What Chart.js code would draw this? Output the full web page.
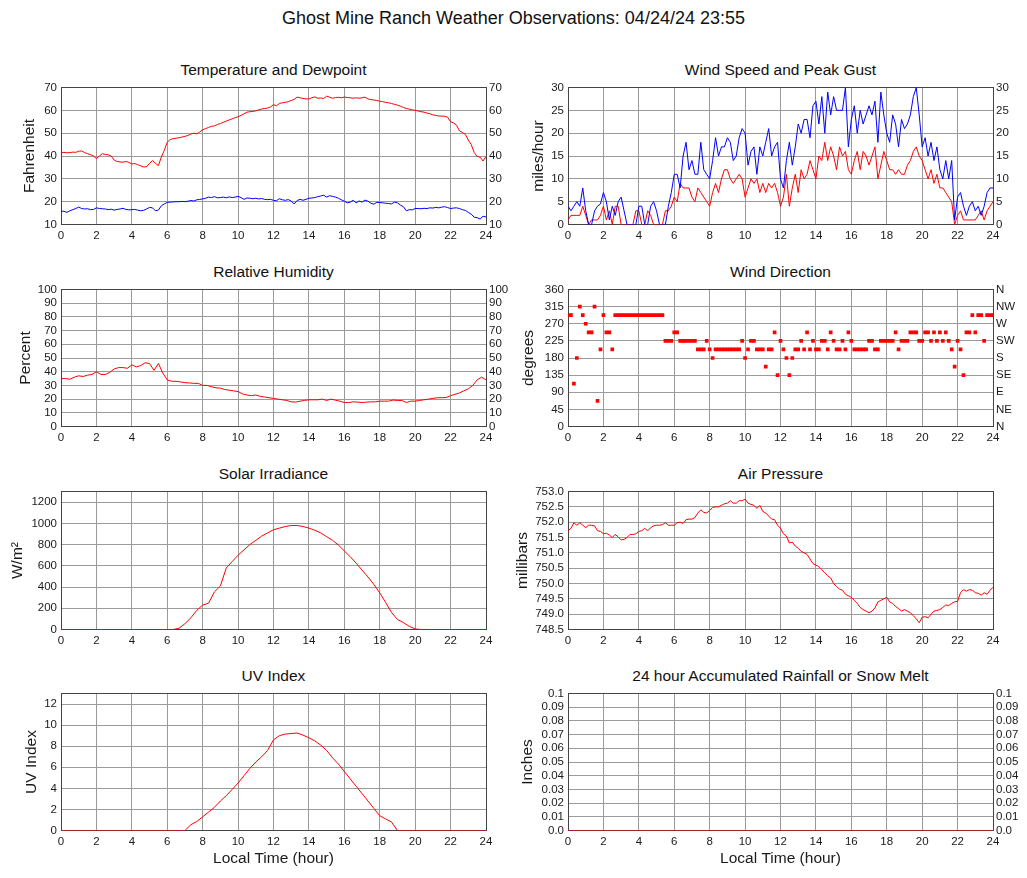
<!DOCTYPE html>
<html>
<head>
<meta charset="utf-8">
<title>Ghost Mine Ranch Weather Observations</title>
<script src="https://cdn.jsdelivr.net/npm/chart.js@4.4.1/dist/chart.umd.min.js"></script>
<style>
  body { margin: 0; background: #fff; font-family: "Liberation Sans", Arial, sans-serif; }
  #page { position: relative; width: 1027px; height: 878px; overflow: hidden; }
  .title { position: absolute; text-align: center; color: #111; white-space: nowrap; }
  .sub { font-size: 15.5px; line-height: 20px; width: 425px; }
  canvas { position: absolute; }
</style>
</head>
<body>
<div id="page">
  <div class="title" style="left:0;top:7px;width:1027px;font-size:18px;line-height:22px">Ghost Mine Ranch Weather Observations: 04/24/24 23:55</div>

  <div class="title sub" style="left:61px;top:60px">Temperature and Dewpoint</div>
  <div class="title sub" style="left:568px;top:60px">Wind Speed and Peak Gust</div>
  <div class="title sub" style="left:61px;top:262px">Relative Humidity</div>
  <div class="title sub" style="left:568px;top:262px">Wind Direction</div>
  <div class="title sub" style="left:61px;top:464px">Solar Irradiance</div>
  <div class="title sub" style="left:568px;top:464px">Air Pressure</div>
  <div class="title sub" style="left:61px;top:666px">UV Index</div>
  <div class="title sub" style="left:568px;top:666px">24 hour Accumulated Rainfall or Snow Melt</div>

  <canvas id="temp"  width="513" height="171" style="left:0;top:75px"></canvas>
  <canvas id="wind"  width="514" height="171" style="left:513px;top:75px"></canvas>
  <canvas id="rh"    width="513" height="171" style="left:0;top:277px"></canvas>
  <canvas id="dir"   width="514" height="171" style="left:513px;top:277px"></canvas>
  <canvas id="solar" width="513" height="172" style="left:0;top:479px"></canvas>
  <canvas id="press" width="514" height="172" style="left:513px;top:479px"></canvas>
  <canvas id="uv"    width="513" height="197" style="left:0;top:681px"></canvas>
  <canvas id="rain"  width="514" height="197" style="left:513px;top:681px"></canvas>
</div>

<script>
// sample spacing, in hours
const STEP_10MIN = 1 / 6;
const STEP_15MIN = 1 / 4;
const STEP_20MIN = 1 / 3;
const STEP_1H = 1;

// one row = one hour (10 minute samples), last value = 24:00
const temperature = [
  41.5, 41.6, 41.4, 41.5, 41.7, 41.6,
  42.1, 42.2, 41.5, 41.0, 40.6, 40.0,
  38.9, 40.0, 41.0, 40.7, 40.5, 40.0,
  38.2, 37.6, 37.4, 37.3, 37.6, 37.2,
  36.5, 36.7, 36.2, 35.7, 35.2, 35.3,
  36.8, 38.0, 36.8, 35.8, 39.5, 42.5,
  46.0, 47.2, 47.6, 47.8, 48.0, 48.3,
  48.6, 49.0, 49.6, 50.0, 49.7, 50.5,
  51.5, 52.0, 52.5, 53.0, 53.2, 53.8,
  54.2, 54.8, 55.3, 55.8, 56.3, 56.8,
  57.2, 57.8, 58.5, 59.2, 59.4, 59.5,
  59.8, 60.2, 60.6, 60.8, 61.0, 61.5,
  62.5, 62.0, 63.0, 63.3, 63.5, 63.8,
  64.3, 64.8, 65.8, 65.5, 65.2, 65.0,
  65.0, 65.5, 65.9, 65.3, 65.4, 65.2,
  66.2, 65.8, 65.3, 65.6, 65.7, 65.5,
  65.8, 65.6, 65.5, 65.3, 65.5, 65.3,
  65.5, 65.8, 65.0, 64.7, 64.5, 64.3,
  64.0, 63.8, 63.5, 63.3, 63.0, 62.6,
  62.3, 61.8, 61.3, 60.8, 60.5, 60.2,
  60.0, 59.7, 59.4, 59.2, 58.8, 58.5,
  58.0, 57.8, 57.5, 57.5, 57.4, 57.0,
  55.0, 54.5, 53.5, 51.0, 50.3, 49.5,
  47.0, 45.0, 41.5, 39.8, 39.5, 37.8,
  39.8
];

const dewpoint = [
  15.8, 15.8, 15.3, 16.0, 16.5, 17.0,
  17.6, 17.0, 16.8, 16.9, 16.5, 16.6,
  17.3, 17.0, 16.9, 16.8, 16.5, 16.7,
  16.3, 16.6, 16.8, 17.1, 16.6, 16.4,
  16.5, 16.6, 16.3, 16.0, 16.2, 16.8,
  17.5, 17.3, 16.0, 16.3, 18.2, 19.0,
  19.7, 19.8, 19.9, 20.0, 20.0, 20.1,
  20.0, 20.2, 20.5, 20.3, 20.8, 21.0,
  21.2, 21.5, 22.0, 21.8, 22.2, 21.7,
  21.8, 22.0, 21.7, 22.1, 21.8, 22.0,
  22.3, 21.8, 21.0, 21.6, 21.5, 21.3,
  21.5, 21.2, 21.4, 21.0, 20.9, 21.0,
  20.6, 20.4, 21.3, 20.8, 20.6, 20.9,
  20.3, 19.0, 20.5, 21.0, 20.6, 21.0,
  21.5, 21.6, 21.8, 22.2, 22.5, 22.8,
  22.0, 22.6, 22.3, 22.0, 21.5, 20.8,
  20.2, 19.5, 19.8, 20.6, 19.5, 20.3,
  19.8, 20.7, 20.2, 19.3, 18.9, 19.7,
  19.6, 19.5, 19.3, 19.2, 19.0, 19.8,
  19.5, 18.5, 17.8, 16.0, 16.5, 16.4,
  17.0, 17.0, 16.9, 17.1, 17.0, 17.3,
  17.2, 17.5, 17.3, 17.6, 17.8, 17.4,
  17.0, 17.2, 17.3, 17.0, 16.5, 16.2,
  15.3, 14.5, 13.2, 13.0, 12.4, 13.6,
  13.3
];

const windSpeed = [
  1, 2, 2, 2, 2, 4,
  2, 0, 1, 1, 1, 2,
  4, 1, 3, 0, 4, 4,
  0, 0, 0, 0, 0, 3,
  3, 0, 0, 3, 2, 0,
  0, 0, 0, 3, 3, 4,
  6, 5, 9, 8, 8, 8,
  6, 5, 8, 7, 6, 5,
  4, 7, 9, 7, 10, 12,
  12, 10, 9, 10, 11, 10,
  6, 8, 10, 9, 10, 7,
  9, 7, 9, 8, 9, 7,
  4, 6, 11, 4, 8, 11,
  7, 12, 10, 11, 14, 12,
  10, 15, 14, 18, 14, 17,
  15, 12, 17, 15, 16, 12,
  11, 14, 16, 12, 16, 15,
  13, 15, 17, 10, 13, 16,
  14, 12, 12, 11, 12, 11,
  11, 13, 14, 16, 17, 15,
  14, 12, 10, 12, 9, 11,
  8, 8, 7, 6, 5, 0,
  2, 3, 1, 1, 1, 1,
  1, 2, 3, 1, 3, 4,
  5
];

const peakGust = [
  4, 3, 4, 5, 4, 8,
  3, 0, 0, 3, 4, 4.5,
  7, 5, 1, 4, 2, 5,
  6, 3, 0, 0, 0, 0,
  4, 4, 0, 0, 4, 5,
  3, 0, 0, 0, 4, 7,
  11, 11, 8, 15, 18, 12,
  14, 11, 11, 18, 12, 11,
  10, 14, 19, 15, 17, 17,
  19, 18, 14, 15, 19, 21,
  20, 13, 16, 17, 11, 17,
  15, 18, 21, 15, 17, 18,
  10, 8, 14, 18, 13, 17,
  22, 20, 23, 23, 19, 26,
  27, 22, 28, 20, 29, 24,
  28, 25, 25, 25, 30, 17,
  23, 26, 20, 25, 22, 24,
  26, 24, 27, 18, 29, 24,
  20, 18, 24, 22, 17, 23,
  21, 22, 24, 28, 30, 24,
  17, 19, 15, 18, 14, 17,
  12, 10, 14, 10, 14, 1,
  6, 7, 4, 2, 4, 5,
  3, 4, 2, 4, 7, 8,
  8
];

const windDirection = [
  292.5, 292.5, 112.5, 180, 315, 292.5,
  270, 247.5, 247.5, 315, 67.5, 202.5,
  292.5, 247.5, 247.5, 202.5, 292.5, 292.5,
  292.5, 292.5, 292.5, 292.5, 292.5, 292.5,
  292.5, 292.5, 292.5, 292.5, 292.5, 292.5,
  292.5, 292.5, 292.5, 225, 225, 225,
  247.5, 247.5, 225, 225, 225, 225,
  225, 225, 202.5, 202.5, 202.5, 225,
  202.5, 180, 202.5, 202.5, 202.5, 202.5,
  202.5, 202.5, 202.5, 202.5, 202.5, 225,
  180, 202.5, 225, 225, 202.5, 202.5,
  202.5, 157.5, 202.5, 202.5, 247.5, 135,
  225, 202.5, 180, 135, 180, 202.5,
  202.5, 225, 202.5, 247.5, 202.5, 225,
  202.5, 202.5, 225, 225, 202.5, 247.5,
  225, 202.5, 202.5, 225, 202.5, 247.5,
  225, 202.5, 202.5, 202.5, 202.5, 202.5,
  225, 225, 202.5, 202.5, 225, 225,
  225, 225, 225, 247.5, 202.5, 225,
  225, 225, 247.5, 247.5, 247.5, 225,
  225, 247.5, 247.5, 225, 247.5, 225,
  247.5, 225, 247.5, 225, 202.5, 157.5,
  225, 202.5, 135, 247.5, 247.5, 292.5,
  247.5, 292.5, 292.5, 225, 292.5, 292.5,
  292.5
];

// 15 minute samples
const humidity = [
  35.0, 35.0, 34.5, 36.0,
  37.0, 36.5, 37.5, 38.0,
  40.0, 38.0, 38.0, 39.5,
  42.0, 43.0, 43.0, 42.5,
  45.0, 43.5, 44.5, 46.5,
  46.0, 41.0, 46.0, 39.0,
  34.0, 33.0, 33.0, 32.5,
  32.0, 31.8, 31.5, 31.5,
  30.0, 30.0, 29.0, 28.2,
  28.0, 27.0, 26.5, 26.0,
  25.5, 23.8, 23.0, 22.5,
  23.0, 22.0, 21.5, 21.0,
  20.5, 20.0, 19.5, 19.0,
  18.0, 17.8, 18.5, 19.0,
  19.5, 19.5, 19.5, 20.0,
  19.0, 20.0, 19.2, 18.5,
  17.5, 17.5, 18.0, 17.8,
  17.5, 17.8, 18.0, 18.0,
  18.5, 18.5, 18.5, 19.3,
  19.0, 19.0, 17.5, 18.5,
  18.5, 19.0, 19.5, 20.0,
  20.5, 21.0, 21.0, 21.2,
  22.5, 23.5, 24.5, 26.0,
  27.5, 30.0, 34.0, 36.0,
  34.0
];

// 20 minute samples
const solar = [
  0, 0, 0,  0, 0, 0,  0, 0, 0,  0, 0, 0,  0, 0, 0,  0, 0, 0,
  0, 0, 12,
  55, 110, 180,
  230, 248, 355,
  410, 580, 640,
  700, 750, 800,
  840, 880, 910,
  940, 955, 970,
  980, 980, 970,
  955, 935, 910,
  875, 840, 795,
  740, 685, 625,
  560, 495, 425,
  345, 255, 160,
  95, 65, 30,
  5, 0, 0,
  0, 0, 0,  0, 0, 0,  0, 0, 0,
  0
];

const uvIndex = [
  0, 0, 0,  0, 0, 0,  0, 0, 0,  0, 0, 0,  0, 0, 0,  0, 0, 0,  0, 0, 0,
  0, 0.55, 0.85,
  1.3, 1.75, 2.2,
  2.8, 3.3, 3.9,
  4.5, 5.2, 5.9,
  6.5, 7.0, 7.6,
  8.6, 9.0, 9.15,
  9.2, 9.25, 9.05,
  8.8, 8.5, 8.1,
  7.6, 6.9, 6.3,
  5.6, 4.9, 4.2,
  3.5, 2.8, 2.1,
  1.4, 1.1, 0.8,
  0, 0, 0,
  0, 0, 0,  0, 0, 0,  0, 0, 0,  0, 0, 0,
  0
];

// 10 minute samples
const pressure = [
  751.72, 751.80, 751.98, 751.90, 751.98, 751.90,
  751.82, 751.90, 751.90, 751.88, 751.72, 751.70,
  751.62, 751.64, 751.58, 751.50, 751.60, 751.52,
  751.42, 751.44, 751.50, 751.60, 751.60, 751.62,
  751.70, 751.72, 751.80, 751.72, 751.82, 751.88,
  751.90, 751.90, 751.92, 751.98, 751.90, 751.90,
  751.90, 751.98, 752.00, 751.96, 752.08, 752.10,
  752.10, 752.15, 752.30, 752.40, 752.32, 752.30,
  752.38, 752.48, 752.50, 752.50, 752.55, 752.60,
  752.62, 752.70, 752.62, 752.62, 752.70, 752.70,
  752.75, 752.62, 752.58, 752.55, 752.45, 752.55,
  752.35, 752.30, 752.20, 752.10, 752.08, 751.90,
  751.80, 751.62, 751.55, 751.32, 751.35, 751.22,
  751.15, 751.05, 751.00, 750.95, 750.80, 750.65,
  750.60, 750.55, 750.45, 750.35, 750.25, 750.18,
  750.00, 749.90, 749.82, 749.78, 749.65, 749.60,
  749.55, 749.45, 749.35, 749.22, 749.15, 749.10,
  749.05, 749.10, 749.20, 749.40, 749.45, 749.50,
  749.55, 749.40, 749.35, 749.25, 749.18, 749.10,
  749.15, 749.10, 749.05, 748.95, 748.85, 748.72,
  748.90, 748.92, 748.88, 749.00, 749.10, 749.12,
  749.15, 749.22, 749.30, 749.28, 749.35, 749.40,
  749.42, 749.70, 749.80, 749.75, 749.80, 749.78,
  749.70, 749.68, 749.62, 749.70, 749.65, 749.78,
  749.88
];

// hourly
const rainfall = [0, 0, 0, 0, 0, 0, 0, 0, 0, 0, 0, 0, 0, 0, 0, 0, 0, 0, 0, 0, 0, 0, 0, 0, 0];

const compassLabels = { 0: 'N', 45: 'NE', 90: 'E', 135: 'SE', 180: 'S', 225: 'SW', 270: 'W', 315: 'NW', 360: 'N' };

const RED = '#ff0000';
const BLUE = '#0000ff';
const GRID = '#9a9a9a';
const FRAME = '#444444';
const NONE = 'rgba(0,0,0,0)';
const TICK_FONT = { size: 11.5 };
const AXIS_FONT = { size: 15.5 };

Chart.defaults.font.family = '"Liberation Sans", Arial, Helvetica, sans-serif';
Chart.defaults.color = '#1a1a1a';

function toPoints(values, step) {
  return values.map((v, i) => ({ x: i * step, y: v }));
}

function line(values, step, color) {
  return {
    data: toPoints(values, step),
    borderColor: color,
    borderWidth: 1,
    pointRadius: 0,
    tension: 0
  };
}

// dark box around the plot area (the plot area sits on half pixels, so this is crisp)
const frame = {
  id: 'frame',
  beforeDatasetsDraw(chart) {
    const { ctx, chartArea: a } = chart;
    ctx.save();
    ctx.strokeStyle = FRAME;
    ctx.lineWidth = 1;
    ctx.strokeRect(a.left + 0.5, a.top, a.right - a.left, a.bottom - a.top);
    ctx.restore();
  }
};

// hide the grid lines that fall on the frame
function gridColor(lo, hi) {
  return c => (c.tick && (c.tick.value === lo || c.tick.value === hi) ? NONE : GRID);
}

function panel(id, datasets, p) {
  const yTicks = {
    stepSize: p.step,
    autoSkip: false,
    includeBounds: p.includeBounds !== false,
    font: TICK_FONT,
    callback: p.fmt || (v => v)
  };
  const scales = {
    x: {
      type: 'linear', min: 0, max: 24,
      ticks: { stepSize: 2, autoSkip: false, maxRotation: 0, padding: 4.5, font: TICK_FONT },
      grid: { color: gridColor(0, 24), drawTicks: false },
      border: { display: false },
      title: {
        display: !!p.bottomRow, text: 'Local Time (hour)', font: AXIS_FONT,
        padding: { top: 0, bottom: 10 }
      },
      afterFit: s => { s.height = p.bottomRow ? 47.5 : 21.5; }
    },
    y: {
      position: 'left', min: p.min, max: p.max,
      ticks: Object.assign({ padding: 4 }, yTicks),
      grid: { color: gridColor(p.min, p.max), drawTicks: false },
      border: { display: false },
      title: { display: true, text: p.yTitle, font: AXIS_FONT, padding: { top: p.yTitlePad, bottom: 0 } },
      afterFit: s => { s.width = p.leftW; }
    }
  };
  if (p.right) {
    scales.y2 = {
      position: 'right', min: p.min, max: p.max,
      ticks: Object.assign({ padding: 3 }, yTicks, p.rightFmt ? { callback: p.rightFmt } : {}),
      grid: { display: false, drawTicks: false },
      border: { display: false },
      afterFit: s => { s.width = p.rightW; }
    };
  }
  new Chart(document.getElementById(id), {
    type: 'line',
    data: { datasets },
    options: {
      responsive: false,
      animation: false,
      events: [],
      layout: { padding: { top: 12.5, left: 0, bottom: 0, right: p.right ? 0 : p.rightW } },
      plugins: { legend: { display: false }, tooltip: { enabled: false } },
      scales
    },
    plugins: [frame]
  });
}

const LEFT = { leftW: 61, rightW: 27 };
const RIGHT = { leftW: 55, rightW: 34 };

panel('temp', [line(temperature, STEP_10MIN, RED), line(dewpoint, STEP_10MIN, BLUE)],
  Object.assign({ min: 10, max: 70, step: 10, yTitle: 'Fahrenheit', yTitlePad: 20.7, right: true }, LEFT));

panel('wind', [line(peakGust, STEP_10MIN, BLUE), line(windSpeed, STEP_10MIN, RED)],
  Object.assign({ min: 0, max: 30, step: 5, yTitle: 'miles/hour', yTitlePad: 16.4, right: true }, RIGHT));

panel('rh', [line(humidity, STEP_15MIN, RED)],
  Object.assign({ min: 0, max: 100, step: 10, yTitle: 'Percent', yTitlePad: 16.2, right: true }, LEFT));

panel('dir', [{
    data: toPoints(windDirection, STEP_10MIN),
    showLine: false,
    pointStyle: 'rect',
    pointRadius: 2.6,
    pointBorderWidth: 0,
    pointBackgroundColor: RED
  }],
  Object.assign({ min: 0, max: 360, step: 45, yTitle: 'degrees', yTitlePad: 6.7, right: true,
    rightFmt: v => compassLabels[v] }, RIGHT));

panel('solar', [line(solar, STEP_20MIN, RED)],
  Object.assign({ min: 0, max: 1300, step: 200, includeBounds: false, yTitle: 'W/m²', yTitlePad: 8.5 }, LEFT));

panel('press', [line(pressure, STEP_10MIN, RED)],
  Object.assign({ min: 748.5, max: 753, step: 0.5, yTitle: 'millibars', yTitlePad: 0,
    fmt: v => v.toFixed(1) }, RIGHT));

panel('uv', [line(uvIndex, STEP_20MIN, RED)],
  Object.assign({ min: 0, max: 13, step: 2, includeBounds: false, yTitle: 'UV Index', yTitlePad: 22.4,
    bottomRow: true }, LEFT));

const rainFmt = v => (v === 0 ? '0.0' : String(+v.toFixed(2)));
panel('rain', [line(rainfall, STEP_1H, RED)],
  Object.assign({ min: 0, max: 0.1, step: 0.01, yTitle: 'Inches', yTitlePad: 5.4, right: true,
    bottomRow: true, fmt: rainFmt, rightFmt: rainFmt }, RIGHT));
</script>
</body>
</html>
